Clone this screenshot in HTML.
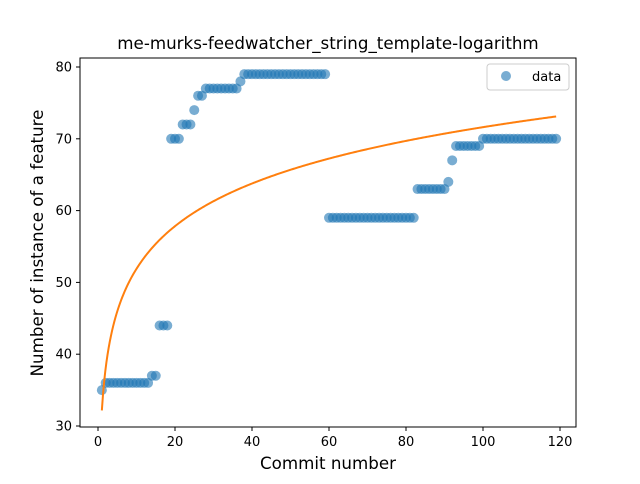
<!DOCTYPE html>
<html><head><meta charset="utf-8"><style>
body{margin:0;background:#fff;font-family:"DejaVu Sans",sans-serif}
</style></head><body>
<svg id="chart" width="640" height="480" xmlns="http://www.w3.org/2000/svg" font-family="DejaVu Sans, sans-serif">
<rect width="640" height="480" fill="#fff"/>
<g id="plot"></g>
<rect x="80" y="58" width="496" height="369" fill="none" stroke="#000" stroke-width="1"/>
<g id="xticks"></g><g id="yticks"></g>
<text x="328" y="49" text-anchor="middle" font-size="16.7">me-murks-feedwatcher_string_template-logarithm</text>
<text x="328" y="469" text-anchor="middle" font-size="16.7">Commit number</text>
<text transform="translate(43,243) rotate(-90)" text-anchor="middle" font-size="16.7">Number of instance of a feature</text>
<g>
<rect x="487" y="64" width="82" height="26" rx="3" fill="#fff" stroke="#ccc"/>
<circle cx="506" cy="76" r="5" fill="#1f77b4" fill-opacity="0.6"/>
<text x="532" y="81" font-size="13">data</text>
</g>
</svg>
<script>
const xs = [];
for (let i = 1; i <= 119; i++) xs.push(i);
const ys = [35,36,36,36,36,36,36,36,36,36,36,36,36,37,37,44,44,44,70,70,70,72,72,72,74,76,76,
77,77,77,77,77,77,77,77,77,78,
79,79,79,79,79,79,79,79,79,79,79,79,79,79,79,79,79,79,79,79,79,79,
59,59,59,59,59,59,59,59,59,59,59,59,59,59,59,59,59,59,59,59,59,59,59,
63,63,63,63,63,63,63,63,64,67,69,69,69,69,69,69,69,
70,70,70,70,70,70,70,70,70,70,70,70,70,70,70,70,70,70,70,70];
const xTicks = [0,20,40,60,80,100,120];
const yTicks = [30,40,50,60,70,80];
const NS="http://www.w3.org/2000/svg";
function sx(v){return 98+v*3.85;}
function sy(v){return 426-(v-30)*7.18;}
const plot=document.getElementById('plot');
let n=xs.length,sl=0,sy_=0,sll=0,sly=0;
for(let i=0;i<n;i++){const l=Math.log(xs[i]);sl+=l;sy_+=ys[i];sll+=l*l;sly+=l*ys[i];}
const b=(n*sly-sl*sy_)/(n*sll-sl*sl), a=(sy_-b*sl)/n;
for(let i=0;i<n;i++){
  const c=document.createElementNS(NS,'circle');
  c.setAttribute('cx',sx(xs[i]));c.setAttribute('cy',sy(ys[i]));c.setAttribute('r',5);
  c.setAttribute('fill','#1f77b4');c.setAttribute('fill-opacity','0.6');
  
  
  plot.appendChild(c);
}
let d='';
const x0=xs[0],x1=xs[xs.length-1];
for(let k=0;k<=400;k++){const x=x0+(x1-x0)*k/400;d+=(k?'L':'M')+sx(x).toFixed(2)+','+sy(a+b*Math.log(x)).toFixed(2);}
const p=document.createElementNS(NS,'path');
p.setAttribute('d',d);p.setAttribute('fill','none');p.setAttribute('stroke','#ff7f0e');p.setAttribute('stroke-width','2');


plot.appendChild(p);
const xg=document.getElementById('xticks');
xTicks.forEach(t=>{
  const l=document.createElementNS(NS,'line');
  l.setAttribute('x1',sx(t));l.setAttribute('x2',sx(t));l.setAttribute('y1',427);l.setAttribute('y2',431);l.setAttribute('stroke','#000');
  
  
  xg.appendChild(l);
  const tx=document.createElementNS(NS,'text');
  tx.setAttribute('x',sx(t));tx.setAttribute('y',446);tx.setAttribute('text-anchor','middle');tx.setAttribute('font-size','13');
  tx.textContent=t;
  
  
  xg.appendChild(tx);
});
const yg=document.getElementById('yticks');
yTicks.forEach(t=>{
  const l=document.createElementNS(NS,'line');
  l.setAttribute('x1',76);l.setAttribute('x2',80);l.setAttribute('y1',sy(t));l.setAttribute('y2',sy(t));l.setAttribute('stroke','#000');
  
  
  yg.appendChild(l);
  const tx=document.createElementNS(NS,'text');
  tx.setAttribute('x',72);tx.setAttribute('y',sy(t)+4.5);tx.setAttribute('text-anchor','end');tx.setAttribute('font-size','13');
  tx.textContent=t;
  
  
  yg.appendChild(tx);
});
</script>
</body></html>
